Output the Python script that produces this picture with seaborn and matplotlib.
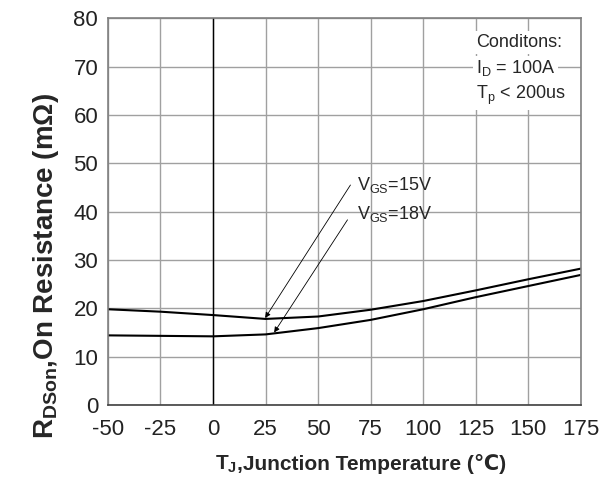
import matplotlib
matplotlib.use("Agg")
import matplotlib.pyplot as plt
import seaborn as sns
import pandas as pd

# data
temp = [-50, -25, 0, 25, 50, 75, 100, 125, 150, 175]
r_vgs15 = [19.8, 19.3, 18.6, 17.8, 18.3, 19.7, 21.5, 23.7, 26.0, 28.2]
r_vgs18 = [14.4, 14.3, 14.2, 14.6, 15.9, 17.6, 19.8, 22.3, 24.6, 26.9]
x_ticks = [-50, -25, 0, 25, 50, 75, 100, 125, 150, 175]
y_ticks = [0, 10, 20, 30, 40, 50, 60, 70, 80]

df = pd.DataFrame({
    "temp": temp + temp,
    "rds": r_vgs15 + r_vgs18,
    "vgs": ["15V"] * len(temp) + ["18V"] * len(temp),
})

sns.set_style("white")
plt.rcParams['font.family'] = ['Liberation Sans', 'DejaVu Sans']
plt.rcParams['mathtext.fontset'] = 'custom'
plt.rcParams['mathtext.rm'] = 'Liberation Sans'
plt.rcParams['mathtext.bf'] = 'Liberation Sans:bold'
plt.rcParams['axes.unicode_minus'] = False

fig = plt.figure(figsize=(6.1, 4.79), dpi=100)
ax = fig.add_axes([0.177, 0.1545, 0.775, 0.8075])

sns.lineplot(data=df, x="temp", y="rds", hue="vgs", palette=["black", "black"],
             linewidth=1.5, legend=False, ax=ax)

ax.set_xlim(-50, 175)
ax.set_ylim(0, 80)
ax.set_xticks(x_ticks)
ax.set_yticks(y_ticks)
ax.grid(True, color="#a0a0a0", linewidth=1.0)
ax.axvline(0, color="black", linewidth=1.0, zorder=1.5)
for s in ax.spines.values():
    s.set_visible(True)
    s.set_color("#808080")
    s.set_linewidth(1.2)
ax.spines["bottom"].set_color("#404040")
ax.tick_params(axis="both", direction="inout", length=8, width=1, color="#808080",
               labelsize=16, labelcolor="#222222")
ax.tick_params(axis="x", pad=6)
ax.tick_params(axis="y", pad=3)

ax.set_xlabel("")
ax.set_ylabel(r"$\mathbf{R_{DSon}}$,On Resistance (mΩ)", fontsize=20, fontweight="bold")
ax.yaxis.set_label_coords(-0.10, 0.36)

# x label in two pieces so ℃ can fall back to DejaVu
fig.text(237 / 610, 1 - 470 / 479, r"$\mathbf{T_J}$", fontsize=15, fontweight="bold",
         ha="right", va="baseline")
fig.text(237 / 610, 1 - 470 / 479, ",Junction Temperature (℃)", fontsize=15, fontweight="bold",
         ha="left", va="baseline")

# annotations with arrows
arrow = dict(arrowstyle="-|>", color="black", lw=0.6, shrinkA=0, shrinkB=0, mutation_scale=8)
ax.annotate("", xy=(24.8, 18.0), xytext=(65.4, 45.5), arrowprops=arrow)
ax.annotate("", xy=(29.1, 15.0), xytext=(64.0, 38.3), arrowprops=arrow)
ax.text(68.5, 45.6, r"$\mathrm{V_{GS}}$=15V", fontsize=13, va="center", ha="left")
ax.text(68.5, 39.4, r"$\mathrm{V_{GS}}$=18V", fontsize=13, va="center", ha="left")

# conditions box
box = dict(facecolor="white", edgecolor="none", pad=2)
ax.text(125, 75, "Conditons:", fontsize=13, va="center", ha="left", bbox=box)
ax.text(125, 69.6, r"$\mathrm{I_D}$ = 100A", fontsize=13, va="center", ha="left", bbox=box)
ax.text(125, 64.0, r"$\mathrm{T_p}$ < 200us", fontsize=13, va="center", ha="left", bbox=box)

fig.savefig("out.png", dpi=100)
